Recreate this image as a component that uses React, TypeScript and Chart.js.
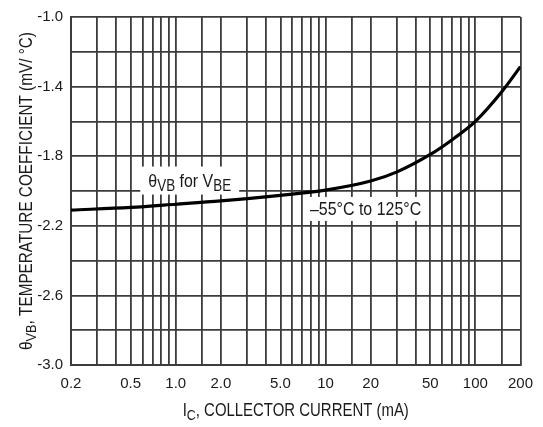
import React, { useEffect, useRef } from "react";
import { Chart, registerables } from "chart.js";

Chart.register(...registerables);

// ---- data ----
const currentMA = [0.2, 0.5, 1.0, 2.0, 5.0, 10, 20, 30, 50, 70, 100, 150, 200];
const tempCoeff = [-2.11, -2.094, -2.076, -2.057, -2.025, -1.995, -1.943, -1.89, -1.79, -1.705, -1.6, -1.43, -1.285];

const xGridValues = [0.2, 0.3, 0.4, 0.5, 0.6, 0.7, 0.8, 0.9, 1, 1.5, 2, 3, 4, 5, 6, 7, 8, 9, 10, 15, 20, 30, 40, 50, 60, 70, 80, 90, 100, 150, 200];
const xTickValues = [0.2, 0.5, 1, 2, 5, 10, 20, 50, 100, 200];
const xTickLabels = ["0.2", "0.5", "1.0", "2.0", "5.0", "10", "20", "50", "100", "200"];
const yTickLabelValues = [-1.0, -1.4, -1.8, -2.2, -2.6, -3.0];

// rich text parts: [text, isSubscript]
const xTitleParts: [string, boolean][] = [["I", false], ["C", true], [", COLLECTOR CURRENT (mA)", false]];
const yTitleParts: [string, boolean][] = [["\u03B8", false], ["VB", true], [", TEMPERATURE COEFFICIENT (mV/ \u00B0C)", false]];
const labelAParts: [string, boolean][] = [["\u03B8", false], ["VB", true], [" for V", false], ["BE", true]];
const labelBParts: [string, boolean][] = [["\u201355\u00B0C to 125\u00B0C", false]];
const labelAPos = { x: 1.24, y: -1.94 };
const labelBPos = { x: 18.5, y: -2.103 };

const FONT = "'Liberation Sans', Arial, sans-serif";
const TEXT = "#1a1a1a";
const GRID = "#3c3c3c";
const SQUEEZE = 0.84;

function richWidth(ctx: CanvasRenderingContext2D, parts: [string, boolean][], size: number, sub: number) {
  let w = 0;
  for (const [t, s] of parts) {
    ctx.font = `${s ? sub : size}px ${FONT}`;
    w += ctx.measureText(t).width;
  }
  return w;
}

function drawRich(ctx: CanvasRenderingContext2D, parts: [string, boolean][], cx: number, baseline: number, size: number, sub: number, shift: number, sx: number) {
  const w = richWidth(ctx, parts, size, sub);
  ctx.save();
  ctx.translate(cx, baseline);
  ctx.scale(sx, 1);
  let x = -w / 2;
  ctx.textAlign = "left";
  ctx.textBaseline = "alphabetic";
  ctx.fillStyle = TEXT;
  for (const [t, s] of parts) {
    ctx.font = `${s ? sub : size}px ${FONT}`;
    ctx.fillText(t, x, s ? shift : 0);
    x += ctx.measureText(t).width;
  }
  ctx.restore();
  return w * sx;
}

const textPlugin = {
  id: "textPlugin",
  afterDatasetsDraw(chart: any) {
    const ctx: CanvasRenderingContext2D = chart.ctx;
    const xs = chart.scales.x;
    const ys = chart.scales.y;
    const boxes = [
      { parts: labelAParts, pos: labelAPos, size: 19, sub: 16, padX: 8, h: 28 },
      { parts: labelBParts, pos: labelBPos, size: 19, sub: 16, padX: 6, h: 24 },
    ];
    ctx.save();
    for (const b of boxes) {
      const cx = xs.getPixelForValue(b.pos.x);
      const cy = ys.getPixelForValue(b.pos.y);
      const w = richWidth(ctx, b.parts, b.size, b.sub) * SQUEEZE;
      ctx.fillStyle = "#ffffff";
      ctx.fillRect(cx - w / 2 - b.padX, cy - b.h / 2, w + 2 * b.padX, b.h);
      drawRich(ctx, b.parts, cx, cy + 6, b.size, b.sub, 4, SQUEEZE);
    }
    ctx.restore();
  },
  afterDraw(chart: any) {
    const ctx: CanvasRenderingContext2D = chart.ctx;
    const a = chart.chartArea;
    drawRich(ctx, xTitleParts, (a.left + a.right) / 2, chart.height - 11, 18, 15, 4, 0.83);
    ctx.save();
    ctx.translate(32, (a.top + a.bottom) / 2);
    ctx.rotate(-Math.PI / 2);
    drawRich(ctx, yTitleParts, 0, 0, 18, 15, 4, 0.85);
    ctx.restore();
  },
};

export default function App() {
  const ref = useRef<HTMLCanvasElement | null>(null);
  useEffect(() => {
    if (!ref.current) return;
    const chart = new Chart(ref.current, {
      type: "line",
      data: {
        datasets: [
          {
            data: currentMA.map((x, i) => ({ x, y: tempCoeff[i] })),
            borderColor: "#000000",
            borderWidth: 3.2,
            pointRadius: 0,
            cubicInterpolationMode: "monotone",
            fill: false,
          },
        ],
      },
      options: {
        animation: false,
        responsive: false,
        maintainAspectRatio: false,
        layout: { padding: { top: 15, right: 16, left: 0, bottom: 0 } },
        plugins: { legend: { display: false }, tooltip: { enabled: false } },
        scales: {
          x: {
            type: "logarithmic",
            min: 0.2,
            max: 200,
            afterBuildTicks: (s: any) => {
              s.ticks = xGridValues.map((v) => ({ value: v }));
            },
            afterFit: (s: any) => {
              s.height = 62;
            },
            ticks: {
              autoSkip: false,
              maxRotation: 0,
              minRotation: 0,
              padding: 10,
              color: TEXT,
              font: { family: FONT, size: 15 },
              callback: (v: any) => {
                const i = xTickValues.findIndex((t) => Math.abs(t - Number(v)) < 1e-9);
                return i >= 0 ? xTickLabels[i] : "";
              },
            },
            grid: { color: GRID, lineWidth: 1.8, drawTicks: false },
            border: { color: GRID, width: 2 },
          },
          y: {
            type: "linear",
            min: -3,
            max: -1,
            afterFit: (s: any) => {
              s.width = 71;
            },
            ticks: {
              stepSize: 0.2,
              padding: 8,
              color: TEXT,
              font: { family: FONT, size: 15 },
              callback: (v: any) => {
                const n = Number(v);
                return yTickLabelValues.some((t) => Math.abs(t - n) < 1e-6) ? n.toFixed(1) : "";
              },
            },
            grid: { color: GRID, lineWidth: 1.8, drawTicks: false },
            border: { color: GRID, width: 2 },
          },
        },
      },
      plugins: [textPlugin],
    } as any);
    return () => chart.destroy();
  }, []);
  return (
    <div style={{ position: "fixed", left: 0, top: 0, width: 543, height: 427, background: "#fff" }}>
      <canvas ref={ref} width={543} height={427} style={{ display: "block" }} />
    </div>
  );
}
